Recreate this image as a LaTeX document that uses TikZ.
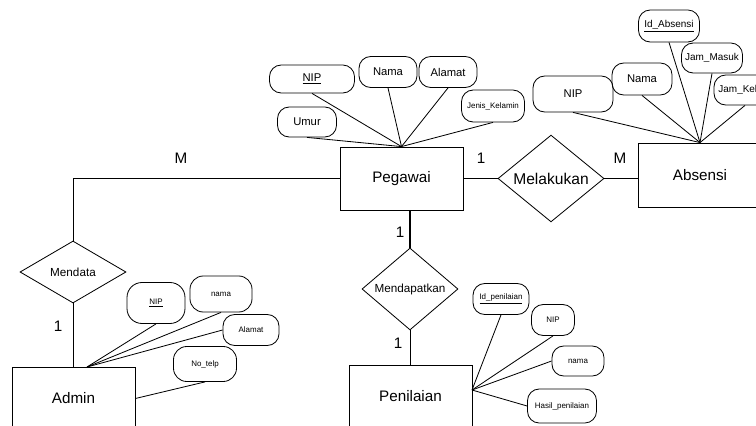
\documentclass[tikz,border=0pt]{standalone}
\usepackage{fontspec}
\setmainfont{Liberation Sans}
\usetikzlibrary{shapes.geometric}

\tikzset{
  entity/.style={draw, minimum width=3.69cm, minimum height=1.89cm, font=\fontsize{13}{15}\selectfont},
  attrib/.style={draw, rounded corners=3.5mm, inner sep=0pt, minimum height=0.93cm, font=\fontsize{9.6}{11}\selectfont},
  smallattr/.style={attrib, font=\fontsize{6.8}{8}\selectfont},
  relation/.style={draw, diamond, inner sep=0pt, minimum width=3.18cm, minimum height=1.86cm, font=\fontsize{10}{12}\selectfont},
  card/.style={font=\fontsize{13}{15}\selectfont},
  strong/.style={line width=1.4pt}
}

\begin{document}
\begin{tikzpicture}[x=0.03cm, y=-0.03cm, line width=0.7pt]
      \clip (0,0) rectangle (756,426);

      % entities and relations
      \node[entity] (pegawai) at (401.5,178.5) {Pegawai};
      \node[entity, minimum height=1.92cm] (absensi) at (700,175) {Absensi};
      \node[entity] (admin) at (73.5,398.5) {Admin};
      \node[entity] (penilaian) at (410.5,396.5) {Penilaian};

      \node[relation] (mendata) at (73,272) {Mendata};
      \node[relation, font=\fontsize{13.3}{15}\selectfont, minimum height=1.89cm] (melakukan) at (551,178.5) {Melakukan};
      \node[relation, minimum width=2.88cm] (mendapatkan) at (410,289) {Mendapatkan};

      % attributes of Pegawai
      \node[attrib, minimum width=2.55cm, minimum height=0.84cm] (pnip) at (312,79) {\underline{NIP}};
      \node[attrib, minimum width=1.74cm] (pnama) at (388,72) {Nama};
      \node[attrib, minimum width=1.74cm] (palamat) at (448,72) {Alamat};
      \node[smallattr, minimum width=1.89cm, minimum height=0.96cm] (pjk) at (493,106) {Jenis\_Kelamin};
      \node[attrib, minimum width=1.77cm, minimum height=0.9cm] (pumur) at (307,122) {Umur};

      % attributes of Absensi
      \node[smallattr, font=\fontsize{8.5}{10}\selectfont, minimum width=1.83cm, minimum height=0.96cm] (aid) at (669,26) {\underline{Id\_Absensi}};
      \node[smallattr, font=\fontsize{8.5}{10}\selectfont, minimum width=1.83cm, minimum height=0.9cm] (amasuk) at (712,58) {Jam\_Masuk};
      \node[smallattr, font=\fontsize{8.5}{10}\selectfont, minimum width=1.86cm, minimum height=0.9cm] (akeluar) at (745,90) {Jam\_Keluar};
      \node[attrib, minimum width=1.8cm, minimum height=0.96cm] (anama) at (642,79) {Nama};
      \node[attrib, minimum width=2.4cm, minimum height=1.08cm] (anip) at (573,94) {NIP};

      % attributes of Admin
      \node[smallattr, rounded corners=4.5mm, minimum width=1.74cm, minimum height=1.23cm] (dnip) at (156,303) {\underline{NIP}};
      \node[smallattr, rounded corners=4mm, minimum width=1.86cm, minimum height=1.08cm] (dnama) at (221,294) {nama};
      \node[smallattr, minimum width=1.68cm, minimum height=0.93cm] (dalamat) at (251,330) {Alamat};
      \node[smallattr, rounded corners=4mm, minimum width=1.89cm, minimum height=1.05cm] (dtelp) at (205,364) {No\_telp};

      % attributes of Penilaian
      \node[smallattr, minimum width=1.68cm, minimum height=0.93cm] (nid) at (501,299) {\underline{Id\_penilaian}};
      \node[smallattr, minimum width=1.29cm, minimum height=0.93cm] (nnip) at (553,320) {NIP};
      \node[smallattr, minimum width=1.56cm, minimum height=0.9cm] (nnama) at (578,361) {nama};
      \node[smallattr, minimum width=2.07cm, minimum height=1.02cm] (nhasil) at (562,406) {Hasil\_penilaian};

      % relationship lines
      \draw (pegawai.west) -| (mendata.north);
      \draw (mendata.south) -- (mendata.south |- admin.north);
      \draw[strong] (pegawai.east) -- (melakukan.west);
      \draw[strong] (melakukan.east) -- (melakukan.east -| absensi.west);
      \draw[strong] (mendapatkan.north |- pegawai.south) -- (mendapatkan.north);
      \draw (mendapatkan.south) -- (mendapatkan.south |- penilaian.north);

      % attribute lines
      \foreach \a in {pnip,pnama,palamat,pjk,pumur}
        \draw (\a.south) -- (pegawai.north);
      \foreach \a in {aid,amasuk,akeluar,anama,anip}
        \draw (\a.south) -- (absensi.north);
      \coordinate (dhub) at (87,367);
      \draw (dnip.south) -- (dhub);
      \draw (dnama.south) -- (dhub);
      \draw (dalamat.west) -- (dhub);
      \draw (dtelp.south) -- (admin.east);
      \coordinate (nhub) at (472,390);
      \draw (nid.south) -- (nhub);
      \draw (nnip.south) -- (nhub);
      \draw (nnama.west) -- (nhub);
      \draw (nhasil.west) -- (nhub);

      % cardinalities
      \node[card] (m1) at (181,158) {M};
      \node[card] (one1) at (481,158) {1};
      \node[card] (m2) at (620,158) {M};
      \node[card] (one2) at (400,232) {1};
      \node[card] (one3) at (398,343) {1};
      \node[card] (one4) at (58,326) {1};
\end{tikzpicture}
\end{document}
